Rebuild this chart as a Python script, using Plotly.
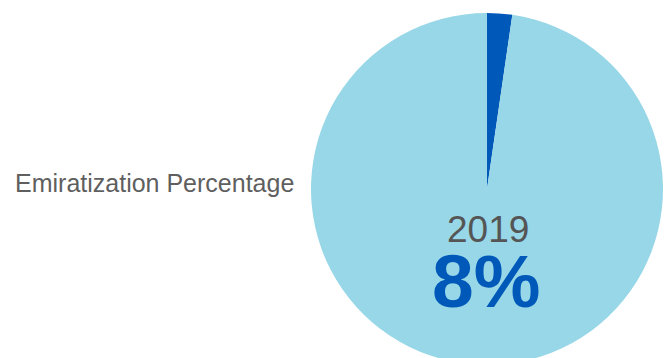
import plotly.graph_objects as go

W, H = 670, 366
labels = ["Emiratized", "Other"]
values = [2.3, 97.7]
colors = ["#0059B9", "#97D7E7"]
year_label = "2019"
pct_label = "8%"
title_label = "Emiratization Percentage"

def py(px):
    return 1 - px / H

fig = go.Figure(go.Pie(
    labels=labels, values=values, sort=False, direction="clockwise", rotation=0,
    marker=dict(colors=colors, line=dict(width=0)),
    textinfo="none", hoverinfo="label+percent", showlegend=False,
    domain=dict(x=[311 / W, 663 / W], y=[py(365), py(13)]),
))

fig.add_annotation(x=13 / W, y=py(183), xref="paper", yref="paper", text=title_label,
                   showarrow=False, xanchor="left", yanchor="middle",
                   font=dict(family="Liberation Sans, Arial", size=25, color="#5f5f5f"))
fig.add_annotation(x=488 / W, y=py(229), xref="paper", yref="paper", text=year_label,
                   showarrow=False, xanchor="center", yanchor="middle",
                   font=dict(family="Liberation Sans, Arial", size=37, color="#555555"))
fig.add_annotation(x=486 / W, y=py(281), xref="paper", yref="paper", text="<b>" + pct_label + "</b>",
                   showarrow=False, xanchor="center", yanchor="middle",
                   font=dict(family="Liberation Sans, Arial", size=75, color="#0059B9"))

fig.update_layout(width=W, height=H, margin=dict(l=0, r=0, t=0, b=0),
                  paper_bgcolor="white", plot_bgcolor="white")

fig.write_html("out.html", config={"displayModeBar": False},
               post_script="document.documentElement.style.overflow='hidden';document.body.style.overflow='hidden';document.body.style.margin='0';")
